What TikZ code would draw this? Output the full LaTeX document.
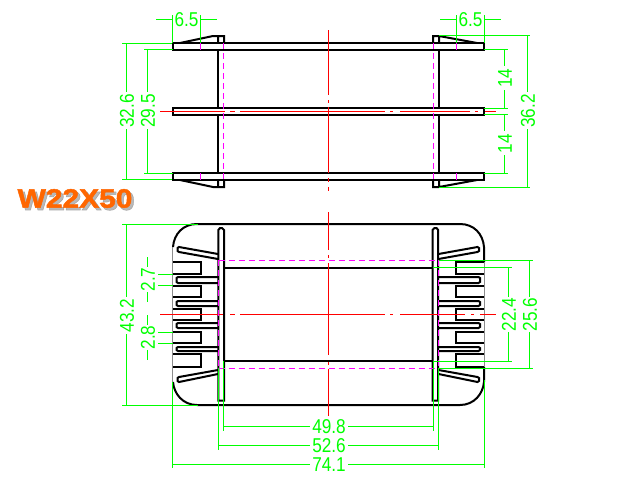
\documentclass[tikz,border=0pt]{standalone}
\usepackage{graphicx}
\usepackage{fontspec}
\setmainfont{Liberation Sans}
\newfontfamily\titlefont[BoldFeatures={FakeBold=1.6}]{Liberation Sans}
\definecolor{cadgreen}{RGB}{0,255,0}
\definecolor{cadred}{RGB}{255,0,0}
\definecolor{cadmag}{RGB}{255,0,255}
\definecolor{cadgrey}{RGB}{140,140,140}
\definecolor{titleor}{RGB}{255,102,0}
\newcommand{\cadtext}[1]{\scalebox{0.86}[1]{#1}}
\tikzset{
  blk/.style={draw=black,line width=2pt},
  grn/.style={draw=cadgreen,line width=1pt},
  rd/.style={draw=cadred,line width=1pt},
  mag/.style={draw=cadmag,line width=1pt,dash pattern=on 6pt off 4pt},
  magshort/.style={draw=cadmag,line width=1pt},
  dimlabel/.style={text=cadgreen,inner sep=0pt,font=\fontsize{20}{20}\selectfont},
  tick/.style={draw=cadgreen,line width=1.6pt},
}
\begin{document}
\begin{tikzpicture}[x=1pt,y=-1pt]
\useasboundingbox[fill=white] (0,0) rectangle (640,480);
% ---- title with its soft shadow
\node[inner sep=0pt,text=gray,opacity=0.55,font=\fontsize{26.5}{26.5}\selectfont\titlefont\bfseries] (titleshadow) at (77.5,201) {\scalebox{1.13}[1]{W22X50}};
\node[inner sep=0pt,text=titleor,font=\fontsize{26.5}{26.5}\selectfont\titlefont\bfseries] (title) at (75,198.5) {\scalebox{1.13}[1]{W22X50}};
% ---- top view, black
\foreach \ya/\yb in {43/50,108/115,173/180}{
  \draw[blk] (173,\ya) rectangle (484,\yb);
}
\draw[blk] (218,50) -- (218,108) (218,115) -- (218,173);
\draw[blk] (439,50) -- (439,108) (439,115) -- (439,173);
% tabs
\draw[blk] (180,43) -- (213,36) -- (224,36) -- (224,43) (218,36) -- (218,43);
\draw[blk] (180,180) -- (213,187) -- (224,187) -- (224,180) (218,187) -- (218,180);
\draw[blk] (477,43) -- (439,36) -- (433,36) -- (433,43) (439,36) -- (439,43);
\draw[blk] (477,180) -- (439,187) -- (433,187) -- (433,180) (439,187) -- (439,180);
% ---- top view, red
\draw[rd] (328.5,30) -- (328.5,95) (328.5,100) -- (328.5,103) (328.5,107) -- (328.5,173) (328.5,178) -- (328.5,182) (328.5,187) -- (328.5,191);
\draw[rd] (160,111.5) -- (225,111.5) (230,111.5) -- (235,111.5) (240,111.5) -- (385,111.5) (390,111.5) -- (393,111.5) (400,111.5) -- (470,111.5) (475,111.5) -- (478,111.5) (485,111.5) -- (496,111.5);
% ---- top view, magenta
\draw[mag] (223.5,43) -- (223.5,180);
\draw[mag] (433.5,43) -- (433.5,180);
\foreach \x in {200.5,456.5}{
  \draw[magshort] (\x,43) -- (\x,50) (\x,173) -- (\x,180);
}
% ---- bottom view, outline
\draw[blk] (173,247) .. controls (174,234) and (183,224) .. (197,224) -- (460,224) .. controls (474,224) and (483,234) .. (484,247) -- (484,262);
\draw[blk] (173,382) .. controls (174,394) and (183,405) .. (197,405) -- (460,405) .. controls (474,405) and (483,394) .. (484,382) -- (484,367);
\draw[draw=cadgrey,line width=1pt] (172.5,247) -- (172.5,382);
\draw[draw=cadgrey,line width=1pt] (484.5,262) -- (484.5,367);
% comb left and right
\foreach \sx/\sh in {1/0,-1/656.5}{
  \begin{scope}[xshift=\sh pt,xscale=\sx]
    \foreach \ya/\yb in {262/274,286/297,309/320,332/343,354/367}{
      \draw[blk] (173,\ya) -- (201,\ya) -- (201,\yb) -- (173,\yb);
    }
    \foreach \ya/\yb in {277/283,301/306,323/328,347/351}{
      \draw[blk] (218,\ya) -- (178,\ya) -- (176.5,\ya+1) -- (176.5,\yb-1) -- (178,\yb) -- (218,\yb);
    }
    \draw[blk] (218,254) -- (179,247) -- (177.5,248) -- (177.5,251) -- (179,252) -- (218,259);
    \draw[blk] (218,370) -- (179,377) -- (177.5,378) -- (177.5,381) -- (179,382) -- (218,374);
    \draw[blk] (218.3,400.5) -- (218.3,230) -- (220,228) -- (222,228) -- (224,230) -- (224,400.5) -- cycle;
  \end{scope}
}
\draw[blk] (224,267.5) -- (432.5,267.5) (224,360.7) -- (432.5,360.7);
% ---- bottom view, red
\draw[rd] (328.5,212) -- (328.5,250) (328.5,255) -- (328.5,258) (328.5,263) -- (328.5,355) (328.5,362) -- (328.5,365) (328.5,369) -- (328.5,416);
\draw[rd] (160,314.5) -- (223,314.5) (230,314.5) -- (235,314.5) (240,314.5) -- (385,314.5) (390,314.5) -- (393,314.5) (400,314.5) -- (465,314.5) (471,314.5) -- (474,314.5) (480,314.5) -- (496,314.5);
% ---- bottom view, magenta
\draw[mag] (218.5,260) -- (218.5,368);
\draw[mag] (438.5,260) -- (438.5,368);
\draw[mag] (218.5,260.5) -- (438.5,260.5);
\draw[mag] (218.5,368.5) -- (438.5,368.5);
% ---- green dimensions, top view
\draw[grn] (172.5,15) -- (172.5,43) (200.5,15) -- (200.5,43);
\draw[grn] (156,19.5) -- (172.5,19.5) (200.5,19.5) -- (217,19.5);
\node[dimlabel] (d65a) at (186.5,19.5) {\cadtext{6.5}};
\draw[grn] (456.5,15) -- (456.5,43) (484.5,15) -- (484.5,43);
\draw[grn] (440,19.5) -- (456.5,19.5) (484.5,19.5) -- (501,19.5);
\node[dimlabel] (d65b) at (470.5,19.5) {\cadtext{6.5}};
\draw[grn] (122,43.5) -- (172,43.5) (122,179.5) -- (172,179.5);
\draw[grn] (126.5,43) -- (126.5,92) (126.5,129) -- (126.5,179.5);
\node[dimlabel,rotate=90] (d326) at (127,111) {\cadtext{32.6}};
\draw[grn] (144,49.5) -- (173,49.5) (144,173.5) -- (173,173.5);
\draw[grn] (147.5,49.5) -- (147.5,92) (147.5,129) -- (147.5,173);
\node[dimlabel,rotate=90] (d295) at (148,111) {\cadtext{29.5}};
\draw[grn] (439,35.5) -- (530,35.5) (439,187.5) -- (530,187.5);
\draw[grn] (527.5,35.5) -- (527.5,92) (527.5,129) -- (527.5,187);
\node[dimlabel,rotate=90] (d362) at (528,111) {\cadtext{36.2}};
\draw[grn] (484,49.5) -- (508,49.5) (484,108.5) -- (508,108.5) (484,114.5) -- (508,114.5) (484,173.5) -- (508,173.5);
\draw[grn] (504.5,49.5) -- (504.5,66) (504.5,90) -- (504.5,108.5) (504.5,114.5) -- (504.5,131) (504.5,155) -- (504.5,173);
\node[dimlabel,rotate=90] (d14a) at (505,78) {\cadtext{14}};
\node[dimlabel,rotate=90] (d14b) at (505,143.5) {\cadtext{14}};
% ---- green dimensions, bottom view
\draw[grn] (122,224.5) -- (198,224.5) (122,405.5) -- (198,405.5);
\draw[grn] (126.5,224) -- (126.5,297) (126.5,334) -- (126.5,405.5);
\node[dimlabel,rotate=90] (d432) at (127,315.5) {\cadtext{43.2}};
\draw[grn] (158,274.5) -- (173,274.5) (158,285.5) -- (173,285.5) (158,332.5) -- (173,332.5) (158,343.5) -- (173,343.5);
\draw[grn] (147.5,257) -- (147.5,267) (147.5,292) -- (147.5,302) (147.5,315) -- (147.5,325) (147.5,350) -- (147.5,360);
\node[dimlabel,rotate=90] (d27) at (148,279.5) {\cadtext{2.7}};
\node[dimlabel,rotate=90] (d28) at (148,337.5) {\cadtext{2.8}};
\draw[grn] (433,267.5) -- (512,267.5) (433,361.5) -- (512,361.5);
\draw[grn] (508.5,267.3) -- (508.5,297) (508.5,332) -- (508.5,361);
\node[dimlabel,rotate=90] (d224) at (509,314.5) {\cadtext{22.4}};
\draw[grn] (438.5,260.5) -- (533,260.5) (438.5,368.5) -- (533,368.5);
\draw[grn] (529.5,260) -- (529.5,297) (529.5,332) -- (529.5,368);
\node[dimlabel,rotate=90] (d256) at (530,314.5) {\cadtext{25.6}};
\draw[grn] (223.5,361) -- (223.5,431) (433.5,361) -- (433.5,431);
\draw[grn] (223.5,426.5) -- (310,426.5) (348,426.5) -- (433.5,426.5);
\node[dimlabel] (d498) at (329,427) {\cadtext{49.8}};
\draw[grn] (218.5,368) -- (218.5,450) (438.5,368) -- (438.5,450);
\draw[grn] (218.5,445.5) -- (310,445.5) (348,445.5) -- (438.5,445.5);
\node[dimlabel] (d526) at (329,446) {\cadtext{52.6}};
\draw[grn] (172.5,382) -- (172.5,468) (484.5,380) -- (484.5,468);
\draw[grn] (172.5,464.5) -- (310,464.5) (348,464.5) -- (484.5,464.5);
\node[dimlabel] (d741) at (329,465) {\cadtext{74.1}};
% small arrow remnants
\foreach \x/\y in {165/19.5,207/19.5,450/19.5,491/19.5,230/426.5,427/426.5,179/464.5,477/464.5}{
  \draw[tick] (\x-2,\y) -- (\x+2,\y);
}
\foreach \x/\y in {126.5/52,126.5/172,504.5/57,504.5/102,504.5/167,527.5/43,527.5/180,529.5/267,508.5/355}{
  \draw[tick] (\x,\y-2) -- (\x,\y+2);
}
\end{tikzpicture}
\end{document}
